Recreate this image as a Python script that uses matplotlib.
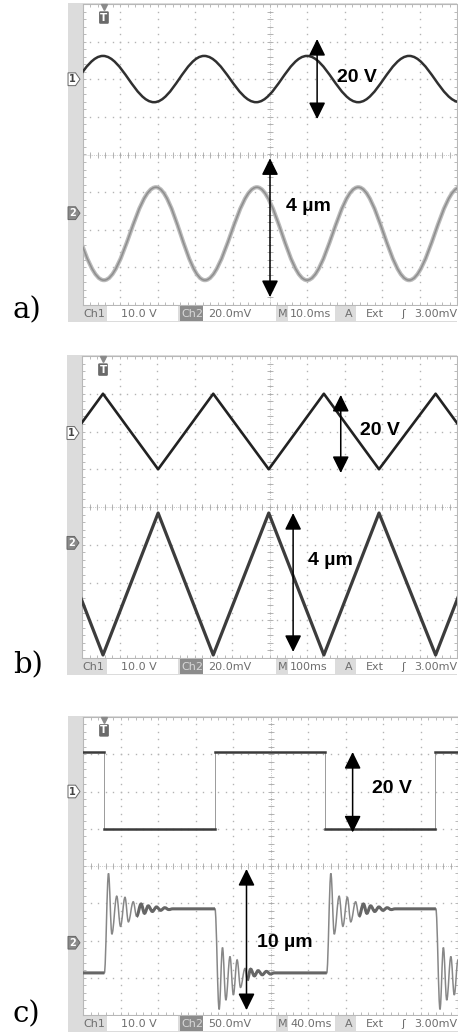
import numpy as np
import matplotlib.pyplot as plt
from matplotlib.path import Path
from matplotlib.patches import PathPatch, Rectangle, Polygon

W, H = 458, 1033

# ---- data (units: scope divisions, x 0..10, y -4..4) ----
# a) sine drive: extrema of each trace (x, y)
A_CH1_X = [-0.83, 0.535, 1.90, 3.24, 4.63, 5.99, 7.36, 8.72, 10.09]
A_CH1_Y = [1.39, 2.62, 1.39, 2.62, 1.39, 2.62, 1.39, 2.62, 1.39]
A_CH2_X = [-0.83, 0.56, 1.95, 3.26, 4.65, 5.99, 7.36, 8.72, 10.09]
A_CH2_Y = [-0.87, -3.34, -0.87, -3.34, -0.87, -3.34, -0.87, -3.34, -0.87]

# b) triangle drive: vertices
B_CH1_X = [-0.91, 0.56, 2.03, 3.50, 4.98, 6.45, 7.92, 9.43, 10.90]
B_CH1_Y = [1.0, 3.0, 1.0, 3.0, 1.0, 3.0, 1.0, 3.0, 1.0]
B_CH2_X = [-0.91, 0.56, 2.03, 3.50, 4.98, 6.45, 7.92, 9.43, 10.90]
B_CH2_Y = [-0.16, -3.92, -0.16, -3.92, -0.16, -3.92, -0.16, -3.92, -0.16]

# c) square drive
C_CH1_EDGES = [0.56, 3.52, 6.45, 9.39]
C_CH1_HIGH, C_CH1_LOW = 3.06, 1.0
C_CH2_EDGES = [0.57, 3.52, 6.50, 9.41]          # rise, fall, rise, fall
C_CH2_HIGH, C_CH2_LOW = -1.15, -2.87
# ringing extrema after each edge: offset from edge, deviation from settled level
RISE_DX = [0.11, 0.20, 0.33, 0.43, 0.55, 0.64, 0.77, 0.86, 0.98, 1.07, 1.17, 1.28, 1.39, 1.50, 1.61, 1.72]
RISE_DY = [0.95, -0.68, 0.34, -0.47, 0.31, -0.35, 0.19, -0.20, 0.13, -0.12, 0.08, -0.07, 0.05, -0.04, 0.03, -0.02]
FALL_DX = [0.11, 0.20, 0.29, 0.40, 0.49, 0.59, 0.68, 0.80, 0.86, 0.95, 1.05, 1.15, 1.26, 1.37, 1.48]
FALL_DY = [-0.98, 0.68, -0.73, 0.44, -0.59, 0.35, -0.39, 0.12, -0.19, 0.10, -0.08, 0.06, -0.05, 0.04, -0.03]
SETTLE = 0.85   # after this the trace looks like the thick noisy baseline

# annotations
ARROWS = {
    'a': [(6.26, 3.07, 0.94), (5.00, -0.10, -3.79)],
    'b': [(6.90, 2.97, 0.90), (5.63, -0.16, -3.84)],
    'c': [(7.19, 3.06, 0.90), (4.36, -0.08, -3.87)],
}
LABELS = {
    'a': [(6.79, 1.93, '20 V'), (5.43, -1.50, '4 µm')],
    'b': [(7.41, 1.91, '20 V'), (6.03, -1.54, '4 µm')],
    'c': [(7.71, 1.95, '20 V'), (4.64, -2.17, '10 µm')],
}
CH_MARK = {'a': (2.0, -1.56), 'b': (1.96, -0.95), 'c': (2.0, -2.06)}
CH2_SCALE = {'a': '20.0mV', 'b': '20.0mV', 'c': '50.0mV'}
TIMEBASE = {'a': '10.0ms', 'b': '100ms', 'c': '40.0ms'}

# panel boxes in pixels: left bar, plot left, plot top, right, plot bottom, status bottom
BOXES = {
    'a': (68, 83, 4, 457, 305, 322),
    'b': (67, 82, 356, 457, 658, 675),
    'c': (68, 83, 717, 458, 1015, 1032),
}
LETTER_Y = {'a': 318, 'b': 673, 'c': 1022}

fig = plt.figure(figsize=(W / 100, H / 100), dpi=100)


def px_axes(x0, y0, x1, y1):
    return fig.add_axes([x0 / W, 1 - y1 / H, (x1 - x0) / W, (y1 - y0) / H])


def smooth_path(xs, ys, k=0.364):
    # half-cosine between consecutive extrema, drawn as cubic beziers
    verts = [(xs[0], ys[0])]
    codes = [Path.MOVETO]
    for i in range(len(xs) - 1):
        dx = xs[i + 1] - xs[i]
        verts += [(xs[i] + k * dx, ys[i]), (xs[i + 1] - k * dx, ys[i + 1]), (xs[i + 1], ys[i + 1])]
        codes += [Path.CURVE4] * 3
    return Path(verts, codes)


def scope_axes(key):
    bx, x0, y0, x1, y1, y2 = BOXES[key]
    # grey frame: left bar + status bar
    fig.add_artist(Rectangle((bx / W, 1 - y2 / H), (x1 - bx) / W, (y2 - y0 + 1) / H,
                             transform=fig.transFigure, fc='#dcdcdc', ec='none', zorder=0))
    ax = px_axes(x0, y0, x1, y1)
    ax.set_xlim(0, 10)
    ax.set_ylim(-4, 4)
    ax.set_facecolor('white')
    for s in ax.spines.values():
        s.set_color('#b8b8b8')
        s.set_linewidth(0.8)
    ax.set_xticks([])
    ax.set_yticks([])
    ax.set_xticks(np.arange(0, 10.01, 0.2), minor=True)
    ax.set_yticks(np.arange(-4, 4.01, 0.2), minor=True)
    ax.tick_params(which='minor', direction='in', length=2.5, width=0.6, color='#b0b0b0',
                   top=True, right=True, labelbottom=False, labelleft=False)
    # dotted graticule
    xd = np.arange(0, 10.01, 0.2)
    yd = np.arange(-4, 4.01, 0.2)
    for gx in range(1, 10):
        ax.plot(np.full_like(yd, gx), yd, ls='none', marker='s', ms=1.0, mew=0, color='#b4b4b4', zorder=1)
    for gy in range(-3, 4):
        ax.plot(xd, np.full_like(xd, gy), ls='none', marker='s', ms=1.0, mew=0, color='#b4b4b4', zorder=1)
    # centre cross with small ticks
    ax.plot(xd, np.zeros_like(xd), ls='none', marker='|', ms=4, mew=0.6, color='#a8a8a8', zorder=1)
    ax.plot(np.full_like(yd, 5), yd, ls='none', marker='_', ms=4, mew=0.6, color='#a8a8a8', zorder=1)
    ax.axhline(0, color='#bcbcbc', lw=0.6, ls=(0, (1, 1.5)), zorder=1)
    ax.axvline(5, color='#bcbcbc', lw=0.6, ls=(0, (1, 1.5)), zorder=1)

    # trigger marker
    ax.plot([0.56], [3.93], marker='v', ms=4.5, color='#8a8a8a', clip_on=False, zorder=5)
    ax.text(0.56, 3.64, 'T', ha='center', va='center', fontsize=7.5, fontweight='bold', color='white',
            bbox=dict(boxstyle='round,pad=0.12', fc='#6a6a6a', ec='none'), zorder=5)

    # channel markers
    m1, m2 = CH_MARK[key]
    for yv, num, fc, tc in [(m1, '1', 'white', '#444444'), (m2, '2', '#8a8a8a', 'white')]:
        poly = Polygon([(-0.40, yv - 0.17), (-0.20, yv - 0.17), (-0.08, yv), (-0.20, yv + 0.17), (-0.40, yv + 0.17)],
                       closed=True, fc=fc, ec='#666666', lw=0.7, clip_on=False, zorder=5)
        ax.add_patch(poly)
        ax.text(-0.28, yv, num, ha='center', va='center', fontsize=7, fontweight='bold', color=tc,
                clip_on=False, zorder=6)

    # arrows and texts
    for xa, ya0, ya1 in ARROWS[key]:
        ax.annotate('', xy=(xa, ya1), xytext=(xa, ya0),
                    arrowprops=dict(arrowstyle='<|-|>,head_length=0.85,head_width=0.42', mutation_scale=12,
                                    color='black', lw=1.1, shrinkA=0, shrinkB=0), zorder=8)
    for xt, yt, s in LABELS[key]:
        ax.text(xt, yt, s, ha='left', va='baseline', fontsize=14, fontweight='bold',
                family=['Liberation Sans', 'DejaVu Sans'], color='black', zorder=9)

    # status bar
    sax = px_axes(bx, y1, x1, y2)
    sax.set_xlim(bx, x1)
    sax.set_ylim(0, 1)
    sax.axis('off')
    for wx0, wx1 in [(107, 178), (203, 276), (288, 335), (356, x1)]:
        sax.add_patch(Rectangle((wx0, 0.06), wx1 - wx0, 0.88, fc='white', ec='none'))
    sax.add_patch(Rectangle((180, 0.06), 23, 0.88, fc='#8c8c8c', ec='none'))
    tc = '#6e6e6e'
    kw = dict(va='center', ha='left', fontsize=8, color=tc, family='DejaVu Sans')
    sax.text(x0 + 0.5, 0.45, 'Ch1', **kw)
    sax.text(121, 0.45, '10.0 V', **kw)
    sax.text(181, 0.45, 'Ch2', va='center', ha='left', fontsize=8, color='#d8d8d8', family='DejaVu Sans')
    sax.text(208, 0.45, CH2_SCALE[key], **kw)
    sax.text(278, 0.45, 'M', **kw)
    sax.text(290, 0.45, TIMEBASE[key], **kw)
    sax.text(345, 0.45, 'A', **kw)
    sax.text(366, 0.45, 'Ext', **kw)
    sax.text(401, 0.45, 'ʃ', **kw)
    sax.text(414, 0.45, '3.00mV', **kw)

    fig.text(13 / W, 1 - LETTER_Y[key] / H, key + ')', ha='left', va='baseline',
             fontsize=21, family='DejaVu Serif', color='black')
    return ax


# ---------- a) sine ----------
ax = scope_axes('a')
ax.add_patch(PathPatch(smooth_path(A_CH1_X, A_CH1_Y), fill=False, ec='#303030', lw=1.8, zorder=4))
ax.add_patch(PathPatch(smooth_path(A_CH2_X, A_CH2_Y), fill=False, ec='#bababa', lw=3.0, zorder=3))
ax.add_patch(PathPatch(smooth_path(A_CH2_X, A_CH2_Y), fill=False, ec='#8e8e8e', lw=1.1, zorder=3))

# ---------- b) triangle ----------
ax = scope_axes('b')
ax.plot(B_CH1_X, B_CH1_Y, color='#222222', lw=1.9, zorder=4)
ax.plot(B_CH2_X, B_CH2_Y, color='#3c3c3c', lw=2.3, zorder=3)

# ---------- c) square ----------
ax = scope_axes('c')
# ch1 step
levels = [C_CH1_HIGH, C_CH1_LOW]
sx, sy = [0.0], [C_CH1_HIGH]
flat1 = []
cur = 0
start = 0.0
for e in C_CH1_EDGES:
    flat1.append((start, e, levels[cur]))
    sx += [e, e]
    sy += [levels[cur], levels[1 - cur]]
    cur = 1 - cur
    start = e
flat1.append((start, 10.0, levels[cur]))
sx.append(10.0)
sy.append(levels[cur])
ax.plot(sx, sy, color='#9a9a9a', lw=0.7, zorder=3)
for fx0, fx1, lv in flat1:
    ax.plot([fx0, fx1], [lv, lv], color='#3a3a3a', lw=1.8, zorder=4)

# ch2 with ringing
rx, ry = [0.0], [C_CH2_LOW]
thick = []
seg_start = 0.0
for i, e in enumerate(C_CH2_EDGES):
    rising = (i % 2 == 0)
    before = C_CH2_LOW if rising else C_CH2_HIGH
    after = C_CH2_HIGH if rising else C_CH2_LOW
    dxs, dys = (RISE_DX, RISE_DY) if rising else (FALL_DX, FALL_DY)
    thick.append((seg_start, e))
    rx.append(e)
    ry.append(before)
    for dx, dy in zip(dxs, dys):
        rx.append(e + dx)
        ry.append(after + dy)
    rx.append(e + dxs[-1] + 0.1)
    ry.append(after)
    seg_start = e + SETTLE
thick.append((seg_start, 10.5))
rx.append(10.5)
ry.append(C_CH2_LOW)
rx = np.array(rx)
ry = np.array(ry)
ax.add_patch(PathPatch(smooth_path(rx, ry), fill=False, ec='#878787', lw=1.1, zorder=3))
for lo, hi in thick:
    sel = (rx >= lo - 1e-9) & (rx <= hi + 1e-9)
    ax.add_patch(PathPatch(smooth_path(rx[sel], ry[sel]), fill=False, ec='#666666', lw=2.2, zorder=3))

fig.savefig('out.png', dpi=100)
